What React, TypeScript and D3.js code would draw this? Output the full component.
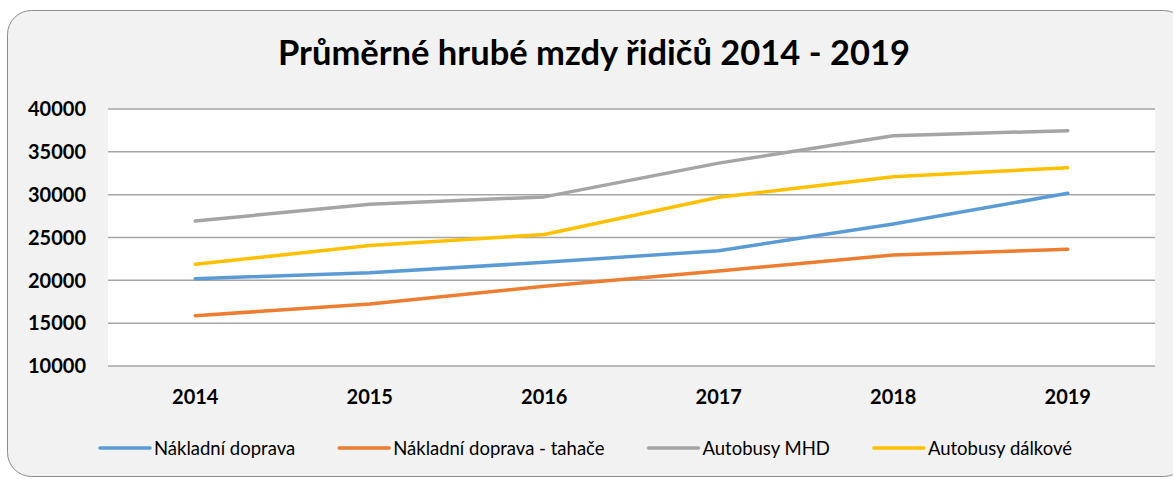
import { useRef, useEffect } from "react";
import * as d3 from "d3";

const years = ["2014", "2015", "2016", "2017", "2018", "2019"];
const nakladni = [20190, 20890, 22100, 23460, 26580, 30160];
const tahace = [15870, 17240, 19300, 21090, 22960, 23620];
const mhd = [26930, 28880, 29740, 33680, 36880, 37470];
const dalkove = [21870, 24060, 25350, 29690, 32100, 33150];
const yTicks = [10000, 15000, 20000, 25000, 30000, 35000, 40000];

const series = [
  { name: "Nákladní doprava", values: nakladni, color: "#5b9bd5" },
  { name: "Nákladní doprava - tahače", values: tahace, color: "#ed7d31" },
  { name: "Autobusy MHD", values: mhd, color: "#a5a5a5" },
  { name: "Autobusy dálkové", values: dalkove, color: "#ffc000" },
];

const title = "Průměrné hrubé mzdy řidičů 2014 - 2019";
const FONT = "Lato, 'Open Sans', sans-serif";

export default function App() {
  const svgRef = useRef<SVGSVGElement>(null);
  const width = 1173;
  const height = 479;

  useEffect(() => {
    if (!svgRef.current) return;
    const svg = d3.select(svgRef.current);
    svg.selectAll("*").remove();

    // card background
    svg.append("rect")
      .attr("x", 7.5).attr("y", 10.5)
      .attr("width", 1180).attr("height", 466)
      .attr("rx", 24)
      .attr("fill", "#f2f2f2")
      .attr("stroke", "#8c8c8c")
      .attr("stroke-width", 1);

    const plot = { left: 108, right: 1155, top: 109, bottom: 366 };

    const x = d3.scaleBand<string>()
      .domain(years)
      .range([plot.left, plot.right])
      .padding(0);
    const y = d3.scaleLinear()
      .domain([10000, 40000])
      .range([plot.bottom, plot.top]);

    svg.append("rect")
      .attr("x", plot.left).attr("y", plot.top)
      .attr("width", plot.right - plot.left)
      .attr("height", plot.bottom - plot.top)
      .attr("fill", "#ffffff");

    // gridlines
    svg.append("g")
      .selectAll("line")
      .data(yTicks)
      .join("line")
      .attr("x1", plot.left).attr("x2", plot.right)
      .attr("y1", (d) => y(d)).attr("y2", (d) => y(d))
      .attr("stroke", "#a6a6a6")
      .attr("stroke-width", 1.5);

    // y labels
    svg.append("g")
      .selectAll("text")
      .data(yTicks)
      .join("text")
      .attr("x", 86)
      .attr("y", (d) => y(d))
      .attr("dy", "0.36em")
      .attr("text-anchor", "end")
      .attr("font-family", FONT)
      .attr("font-weight", 700)
      .attr("font-size", 20)
      .attr("fill", "#000")
      .text((d) => String(d));

    // x labels
    svg.append("g")
      .selectAll("text")
      .data(years)
      .join("text")
      .attr("x", (d) => (x(d) ?? 0) + x.bandwidth() / 2)
      .attr("y", 397)
      .attr("dy", "0.36em")
      .attr("text-anchor", "middle")
      .attr("font-family", FONT)
      .attr("font-weight", 700)
      .attr("font-size", 20)
      .attr("fill", "#000")
      .text((d) => d);

    const line = d3.line<number>()
      .x((_, i) => (x(years[i]) ?? 0) + x.bandwidth() / 2)
      .y((d) => y(d));

    svg.append("g")
      .selectAll("path")
      .data(series)
      .join("path")
      .attr("d", (s) => line(s.values))
      .attr("fill", "none")
      .attr("stroke", (s) => s.color)
      .attr("stroke-width", 3.5)
      .attr("stroke-linecap", "round")
      .attr("stroke-linejoin", "round");

    // title
    svg.append("text")
      .attr("x", 594)
      .attr("y", 53)
      .attr("dy", "0.36em")
      .attr("text-anchor", "middle")
      .attr("font-family", FONT)
      .attr("font-weight", 700)
      .attr("font-size", 34.5)
      .attr("fill", "#000")
      .text(title);

    // legend
    const legend = svg.append("g");
    const ly = 448;
    const items = series.map((s) => {
      const g = legend.append("g");
      g.append("line")
        .attr("x1", 0).attr("x2", 50)
        .attr("y1", 0).attr("y2", 0)
        .attr("stroke", s.color)
        .attr("stroke-width", 3.5)
        .attr("stroke-linecap", "round");
      const t = g.append("text")
        .attr("x", 54)
        .attr("dy", "0.36em")
        .attr("font-family", FONT)
        .attr("font-size", 18.5)
        .attr("fill", "#000")
        .text(s.name);
      const w = 54 + (t.node()?.getComputedTextLength() ?? 0);
      return { g, w };
    });
    const gap = 44;
    const total = d3.sum(items, (d) => d.w) + gap * (items.length - 1);
    let cx = 586 - total / 2;
    items.forEach((it) => {
      it.g.attr("transform", `translate(${cx},${ly})`);
      cx += it.w + gap;
    });
  }, []);

  return (
    <svg
      ref={svgRef}
      width={width}
      height={height}
      style={{ position: "absolute", left: 0, top: 0, display: "block" }}
    />
  );
}
